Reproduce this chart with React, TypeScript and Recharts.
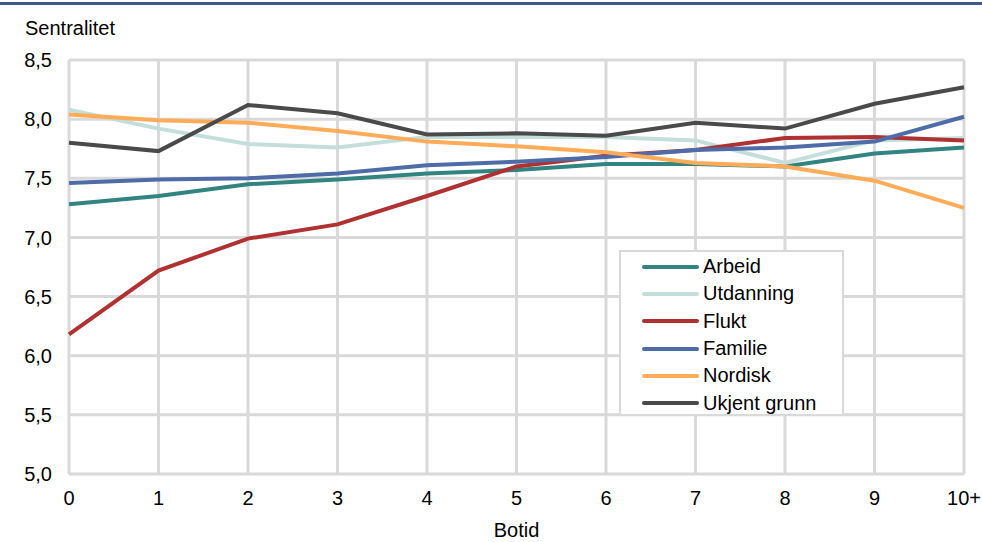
import { LineChart, Line, XAxis, YAxis, CartesianGrid, Legend } from 'recharts';

const botid = ['0', '1', '2', '3', '4', '5', '6', '7', '8', '9', '10+'];

const arbeid = [7.28, 7.35, 7.45, 7.49, 7.54, 7.57, 7.62, 7.62, 7.6, 7.71, 7.76];
const utdanning = [8.08, 7.92, 7.79, 7.76, 7.85, 7.85, 7.85, 7.82, 7.63, 7.82, 7.84];
const flukt = [6.18, 6.72, 6.99, 7.11, 7.35, 7.6, 7.69, 7.74, 7.84, 7.85, 7.82];
const familie = [7.46, 7.49, 7.5, 7.54, 7.61, 7.64, 7.68, 7.74, 7.76, 7.81, 8.02];
const nordisk = [8.04, 7.99, 7.97, 7.9, 7.81, 7.77, 7.72, 7.63, 7.6, 7.48, 7.25];
const ukjent = [7.8, 7.73, 8.12, 8.05, 7.87, 7.88, 7.86, 7.97, 7.92, 8.13, 8.27];

const yTicks = [5, 5.5, 6, 6.5, 7, 7.5, 8, 8.5];

const series = [
  { key: 'arbeid', name: 'Arbeid', color: '#31847f' },
  { key: 'utdanning', name: 'Utdanning', color: '#c4dfdb' },
  { key: 'flukt', name: 'Flukt', color: '#b03131' },
  { key: 'familie', name: 'Familie', color: '#4e6ca8' },
  { key: 'nordisk', name: 'Nordisk', color: '#ffab57' },
  { key: 'ukjent', name: 'Ukjent grunn', color: '#4a4a4a' },
];

const data = botid.map((b, i) => ({
  botid: b,
  arbeid: arbeid[i],
  utdanning: utdanning[i],
  flukt: flukt[i],
  familie: familie[i],
  nordisk: nordisk[i],
  ukjent: ukjent[i],
}));

const font = '"Liberation Sans", Arial, sans-serif';

function LegendBox() {
  return (
    <div
      style={{
        width: 225,
        height: 166,
        border: '2px solid #d9d9d9',
        background: '#fff',
        boxSizing: 'border-box',
        paddingTop: 1,
        fontFamily: font,
        fontSize: 20,
        color: '#000',
      }}
    >
      {series.map((s) => (
        <div key={s.key} style={{ display: 'flex', alignItems: 'center', height: 27.3 }}>
          <div
            style={{
              width: 57,
              height: 4,
              borderRadius: 2,
              background: s.color,
              marginLeft: 21,
              marginRight: 4,
            }}
          />
          <span>{s.name}</span>
        </div>
      ))}
    </div>
  );
}

export default function App() {
  return (
    <div style={{ position: 'absolute', left: 0, top: 0, width: 982, height: 542, background: '#fff' }}>
      <div style={{ position: 'absolute', left: 0, top: 2, width: 982, height: 3, background: '#3f5b8c' }} />
      <div
        style={{
          position: 'absolute',
          left: 25,
          top: 18,
          fontFamily: font,
          fontSize: 20,
          lineHeight: '20px',
          color: '#000',
        }}
      >
        Sentralitet
      </div>
      <LineChart width={982} height={542} data={data} margin={{ top: 60, right: 18, left: 0, bottom: 0 }}>
        <CartesianGrid stroke="#d9d9d9" strokeWidth={3} />
        <XAxis
          dataKey="botid"
          height={68}
          axisLine={false}
          tickLine={false}
          tickSize={6}
          tickMargin={11}
          interval={0}
          tick={{ fill: '#000', fontSize: 20, fontFamily: font }}
          label={{ value: 'Botid', position: 'insideBottom', offset: 5, fill: '#000', fontSize: 20, fontFamily: font }}
        />
        <YAxis
          width={69}
          domain={[5, 8.5]}
          ticks={yTicks}
          interval={0}
          axisLine={false}
          tickLine={false}
          tickSize={6}
          tickMargin={11}
          tickFormatter={(v: number) => v.toFixed(1).replace('.', ',')}
          tick={{ fill: '#000', fontSize: 20, fontFamily: font }}
        />
        <Legend
          layout="vertical"
          align="center"
          verticalAlign="middle"
          content={() => <LegendBox />}
          wrapperStyle={{ position: 'absolute', left: 619, top: 250, width: 225 }}
        />
        {series.map((s) => (
          <Line
            key={s.key}
            dataKey={s.key}
            name={s.name}
            stroke={s.color}
            strokeWidth={4}
            dot={false}
            activeDot={false}
            type="linear"
            isAnimationActive={false}
          />
        ))}
      </LineChart>
    </div>
  );
}
